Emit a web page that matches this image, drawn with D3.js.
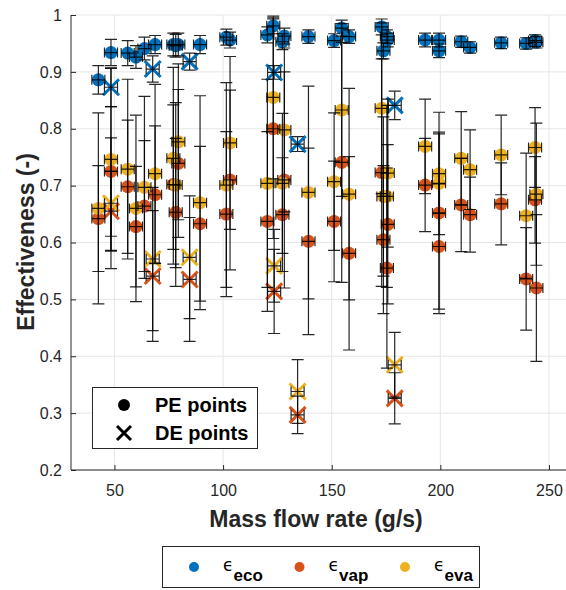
<!DOCTYPE html>
<html><head><meta charset="utf-8">
<script src="https://cdn.jsdelivr.net/npm/d3@7"></script>
<style>body{margin:0;background:#fff} svg{display:block} text{font-family:"Liberation Sans",Arial,Helvetica,sans-serif}</style>
</head><body><svg id="c" width="566" height="590"></svg>
<script>
// ---- data ----
const peMass   = [42.6,48.4,56.1,59.9,63.8,68.7,77.1,79.4,78.2,89.4,101.5,103.2,120.4,123.1,127.3,128.2,139.3,151.1,154.6,158.0,173.0,173.8,175.4,175.8,193.0,199.4,199.4,209.6,213.7,228.0,239.5,243.6,244.2];
const peEco    = [0.886,0.934,0.933,0.926,0.941,0.948,0.948,0.948,0.946,0.948,0.961,0.956,0.965,0.981,0.953,0.963,0.962,0.955,0.977,0.962,0.979,0.937,0.962,0.956,0.956,0.956,0.937,0.953,0.943,0.951,0.950,0.955,0.952];
const peEcoErr = [0.025,0.023,0.022,0.020,0.020,0.016,0.020,0.020,0.020,0.016,0.014,0.014,0.014,0.014,0.014,0.014,0.012,0.012,0.014,0.012,0.014,0.014,0.012,0.012,0.012,0.012,0.012,0.010,0.010,0.010,0.010,0.010,0.010];
const peVap    = [0.642,0.725,0.698,0.628,0.664,0.684,0.702,0.739,0.653,0.633,0.650,0.710,0.637,0.800,0.649,0.710,0.602,0.637,0.741,0.581,0.723,0.605,0.555,0.632,0.701,0.652,0.593,0.666,0.649,0.668,0.536,0.675,0.520];
const peVapErr = [0.093,0.114,0.117,0.106,0.115,0.121,0.140,0.130,0.130,0.136,0.145,0.158,0.158,0.193,0.100,0.190,0.164,0.106,0.211,0.170,0.200,0.130,0.176,0.140,0.082,0.177,0.110,0.082,0.066,0.072,0.090,0.076,0.129];
const peEva    = [0.660,0.746,0.729,0.660,0.697,0.721,0.748,0.777,0.701,0.670,0.701,0.775,0.704,0.855,0.704,0.798,0.688,0.707,0.833,0.685,0.836,0.681,0.681,0.722,0.769,0.721,0.704,0.748,0.728,0.754,0.647,0.767,0.685];
const peEvaErr = [0.168,0.160,0.158,0.164,0.160,0.157,0.160,0.137,0.145,0.188,0.180,0.152,0.183,0.143,0.123,0.144,0.187,0.121,0.152,0.186,0.150,0.140,0.160,0.130,0.083,0.070,0.090,0.082,0.070,0.070,0.110,0.070,0.125];

const deMass   = [48.4,67.6,84.6,123.5,134.3,179.0];
const deEco    = [0.873,0.905,0.918,0.899,0.773,0.841];
const deEcoErr = [0.034,0.023,0.015,0.012,0.013,0.025];
const deVap    = [0.655,0.541,0.535,0.514,0.297,0.326];
const deVapErr = [0.070,0.115,0.109,0.074,0.033,0.045];
const deEva    = [0.669,0.571,0.574,0.559,0.338,0.385];
const deEvaErr = [0.115,0.126,0.108,0.064,0.056,0.057];

const massErr = 3; // g/s, horizontal error bar half-width

const xTicks = [50,100,150,200,250];
const yTicks = [0.2,0.3,0.4,0.5,0.6,0.7,0.8,0.9,1.0];
const yTickLabels = ["0.2","0.3","0.4","0.5","0.6","0.7","0.8","0.9","1"];
const seriesNames = ["eco","vap","eva"];
const seriesColors = ["#0072BD","#D95319","#EDB120"];

// ---- layout ----
const svg = d3.select("#c");
const x = d3.scaleLinear().domain([30,256]).range([71,562]);
const y = d3.scaleLinear().domain([0.2,1]).range([470,15]);
const axisColor = "#262626";

// grid
const grid = svg.append("g");
grid.selectAll("line.gx").data(xTicks).join("line")
  .attr("x1",d=>x(d)).attr("x2",d=>x(d)).attr("y1",y(1)).attr("y2",y(0.2))
  .attr("stroke","#e6e6e6").attr("stroke-width",1);
grid.selectAll("line.gy").data(yTicks).join("line")
  .attr("x1",x(30)).attr("x2",566).attr("y1",d=>y(d)).attr("y2",d=>y(d))
  .attr("stroke","#e6e6e6").attr("stroke-width",1);

// axes
const gx = svg.append("g").attr("transform",`translate(0,${y(0.2)})`)
  .call(d3.axisBottom(x).tickValues(xTicks).tickSizeInner(-5).tickSizeOuter(0).tickPadding(15));
const gy = svg.append("g").attr("transform",`translate(${x(30)},0)`)
  .call(d3.axisLeft(y).tickValues(yTicks).tickFormat((d,i)=>yTickLabels[i]).tickSizeInner(-5).tickSizeOuter(0).tickPadding(9));
[gx,gy].forEach(g=>{
  g.select(".domain").remove();
  g.selectAll("line").attr("stroke",axisColor);
  g.selectAll("text").attr("fill",axisColor).style("font-size","16px").style("font-family","'Liberation Sans',Arial,sans-serif");
});
svg.append("line").attr("x1",x(30)).attr("x2",566).attr("y1",y(0.2)).attr("y2",y(0.2)).attr("stroke",axisColor);
svg.append("line").attr("x1",x(30)).attr("x2",x(30)).attr("y1",y(0.2)).attr("y2",y(1)).attr("stroke",axisColor);

// axis labels
svg.append("text").attr("x",316).attr("y",527).attr("text-anchor","middle")
  .attr("fill",axisColor).style("font-size","23px").style("font-weight","bold").text("Mass flow rate (g/s)");
svg.append("text").attr("transform","translate(34,242) rotate(-90)").attr("text-anchor","middle")
  .attr("fill",axisColor).style("font-size","23px").style("font-weight","bold").text("Effectiveness (-)");

// ---- data marks ----
const pe = [peEco,peVap,peEva], peErr=[peEcoErr,peVapErr,peEvaErr];
const de = [deEco,deVap,deEva], deErr=[deEcoErr,deVapErr,deEvaErr];
const marks = svg.append("g");
const xs = 8;
for (let s=0;s<3;s++){
  const col = seriesColors[s];
  marks.append("g").selectAll("circle").data(peMass.map((m,i)=>({m,v:pe[s][i]}))).join("circle")
    .attr("cx",d=>x(d.m)).attr("cy",d=>y(d.v)).attr("r",6.5).attr("fill",col);
  marks.append("g").selectAll("path").data(deMass.map((m,i)=>({m,v:de[s][i]}))).join("path")
    .attr("d",d=>{const cx=x(d.m),cy=y(d.v);return `M${cx-xs},${cy-xs}L${cx+xs},${cy+xs}M${cx-xs},${cy+xs}L${cx+xs},${cy-xs}`;})
    .attr("stroke",col).attr("stroke-width",3).attr("fill","none");
}
// error bars
const bars = svg.append("g").attr("stroke","#000").attr("stroke-width",1.2).attr("stroke-opacity",0.85).attr("fill","none");
function eb(m,v,e){
  const cx=x(m), cy=y(v), y0=y(v-e), y1=y(v+e), x0=x(m-massErr), x1=x(m+massErr);
  const cw=6, ch=5;
  return `M${cx},${y0}L${cx},${y1}M${cx-cw},${y0}L${cx+cw},${y0}M${cx-cw},${y1}L${cx+cw},${y1}`+
         `M${x0},${cy}L${x1},${cy}M${x0},${cy-ch}L${x0},${cy+ch}M${x1},${cy-ch}L${x1},${cy+ch}`;
}
for (let s=0;s<3;s++){
  bars.append("g").selectAll("path").data(peMass.map((m,i)=>({m,v:pe[s][i],e:peErr[s][i]}))).join("path").attr("d",d=>eb(d.m,d.v,d.e));
  bars.append("g").selectAll("path").data(deMass.map((m,i)=>({m,v:de[s][i],e:deErr[s][i]}))).join("path").attr("d",d=>eb(d.m,d.v,d.e));
}

// ---- inner legend ----
const lg = svg.append("g");
lg.append("rect").attr("x",92.5).attr("y",387.5).attr("width",165).attr("height",61).attr("fill","#fff").attr("stroke",axisColor).attr("stroke-width",1);
lg.append("circle").attr("cx",124).attr("cy",405).attr("r",6).attr("fill","#000");
lg.append("path").attr("d","M117,426L131,440M117,440L131,426").attr("stroke","#000").attr("stroke-width",3);
lg.append("text").attr("x",155).attr("y",412).style("font-size","20px").style("font-weight","bold").text("PE points");
lg.append("text").attr("x",155).attr("y",440).style("font-size","20px").style("font-weight","bold").text("DE points");

// ---- bottom legend ----
const bl = svg.append("g");
bl.append("rect").attr("x",162.5).attr("y",546.5).attr("width",317).attr("height",41).attr("fill","#fff").attr("stroke",axisColor).attr("stroke-width",1);
const lgX = [194,299.5,405];
seriesNames.forEach((n,i)=>{
  bl.append("circle").attr("cx",lgX[i]).attr("cy",567).attr("r",5).attr("fill",seriesColors[i]);
  const t = bl.append("text").attr("x",lgX[i]+29).attr("y",571).attr("fill","#000");
  t.append("tspan").style("font-size","17px").style("font-family","'DejaVu Sans',sans-serif").text("ϵ");
  t.append("tspan").attr("dy",10).style("font-size","17px").style("font-weight","bold").text(n);
});
</script></body></html>
